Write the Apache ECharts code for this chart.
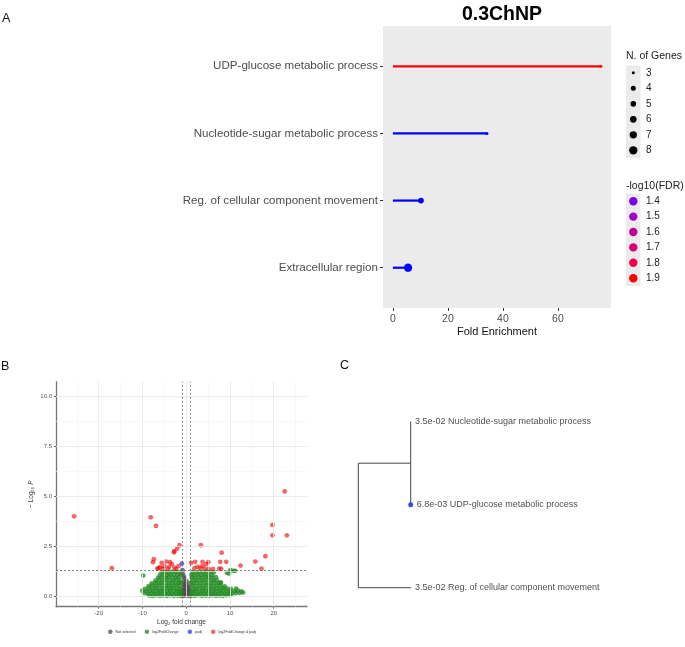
<!DOCTYPE html>
<html>
<head>
<meta charset="utf-8">
<script src="https://cdn.jsdelivr.net/npm/echarts@6/dist/echarts.min.js"></script>
<style>
html, body { margin: 0; padding: 0; background: #fff; }
#chart { width: 685px; height: 647px; }
</style>
</head>
<body>
<div id="chart"></div>
<script>
// ---- Panel A: GO enrichment lollipop ----
const goTerms = ['UDP-glucose metabolic process', 'Nucleotide-sugar metabolic process', 'Reg. of cellular component movement', 'Extracellular region']
const foldEnrichment = [75.6, 34.2, 10.2, 5.5]
const geneCounts = [3, 3, 5, 8]
const negLogFdr = [2.17, 1.46, 1.46, 1.46]
const foldTicks = [0, 20, 40, 60]
const geneLegend = [3, 4, 5, 6, 7, 8]
const fdrLegend = [1.4, 1.5, 1.6, 1.7, 1.8, 1.9]

// ---- Panel B: volcano plot points [log2FC, -log10 P] ----
const notSelected = [
	[-0.8, 0.02], [-0.4, 0.03], [0.0, 0.02], [0.4, 0.04], [0.8, 0.02],
	[-0.7, 0.15], [-0.3, 0.14], [0.1, 0.16], [0.5, 0.15],
	[-0.8, 0.3], [-0.4, 0.29], [0.0, 0.31], [0.4, 0.3], [0.7, 0.28],
	[-0.6, 0.45], [-0.2, 0.46], [0.2, 0.44], [0.6, 0.45],
	[-0.5, 0.6], [-0.1, 0.62], [0.3, 0.58],
	[-0.4, 0.76], [0.1, 0.74], [-0.3, 0.9], [-0.6, 1.0],
	[-0.8, 1.13], [-0.85, 1.3]
]
const fcOnly = [
	[-8.4, 0.03], [-7.6, 0.02], [-6.8, 0.04], [-6.0, 0.02], [-5.2, 0.03], [-4.4, 0.02], [-3.6, 0.04], [-2.8, 0.02], [-2.0, 0.03], [-1.3, 0.02],
	[1.3, 0.03], [2.0, 0.02], [2.8, 0.04], [3.6, 0.02], [4.4, 0.03], [5.2, 0.02], [6.0, 0.04], [6.8, 0.02], [7.6, 0.03], [8.4, 0.02], [9.2, 0.04], [10.0, 0.05],
	[-9.6, 0.15], [-8.8, 0.12], [-8.0, 0.14], [-7.2, 0.12], [-6.4, 0.15], [-5.6, 0.13], [-4.8, 0.12], [-4.0, 0.14], [-3.2, 0.13], [-2.4, 0.15], [-1.6, 0.12], [-1.1, 0.14],
	[1.1, 0.13], [1.7, 0.15], [2.5, 0.12], [3.3, 0.14], [4.1, 0.13], [4.9, 0.15], [5.7, 0.12], [6.5, 0.14], [7.3, 0.13], [8.1, 0.15], [8.9, 0.12], [9.7, 0.14], [10.5, 0.13], [11.3, 0.15], [12.2, 0.16], [13.0, 0.18],
	[-10.0, 0.27], [-9.2, 0.25], [-8.4, 0.26], [-7.6, 0.24], [-6.8, 0.27], [-6.0, 0.25], [-5.2, 0.26], [-4.4, 0.24], [-3.6, 0.27], [-2.8, 0.25], [-2.0, 0.26], [-1.3, 0.24],
	[1.3, 0.25], [2.1, 0.27], [2.9, 0.24], [3.7, 0.26], [4.5, 0.25], [5.3, 0.27], [6.1, 0.24], [6.9, 0.26], [7.7, 0.25], [8.5, 0.27], [9.3, 0.24], [10.1, 0.26], [11.0, 0.25], [11.8, 0.27], [12.6, 0.24],
	[-9.4, 0.36], [-8.5, 0.39], [-7.7, 0.37], [-6.9, 0.4], [-6.1, 0.38], [-5.3, 0.36], [-4.5, 0.39], [-3.7, 0.37], [-2.9, 0.4], [-2.1, 0.38], [-1.4, 0.36],
	[1.4, 0.38], [2.2, 0.36], [3.0, 0.39], [3.8, 0.37], [4.6, 0.4], [5.4, 0.38], [6.2, 0.36], [7.0, 0.39], [7.8, 0.37], [8.6, 0.4], [9.4, 0.38], [10.2, 0.36],
	[-8.6, 0.5], [-7.8, 0.53], [-7.0, 0.51], [-6.2, 0.54], [-5.4, 0.52], [-4.6, 0.5], [-3.8, 0.53], [-3.0, 0.51], [-2.2, 0.54], [-1.5, 0.52],
	[1.5, 0.52], [2.3, 0.5], [3.1, 0.53], [3.9, 0.51], [4.7, 0.54], [5.5, 0.52], [6.3, 0.5], [7.1, 0.53], [7.9, 0.51], [8.8, 0.49],
	[-7.9, 0.64], [-7.1, 0.67], [-6.3, 0.65], [-5.5, 0.68], [-4.7, 0.66], [-3.9, 0.64], [-3.1, 0.67], [-2.3, 0.65], [-1.6, 0.68], [-1.1, 0.66],
	[1.1, 0.66], [1.6, 0.64], [2.4, 0.67], [3.2, 0.65], [4.0, 0.68], [4.8, 0.66], [5.6, 0.64], [6.4, 0.67], [7.2, 0.65], [7.9, 0.68],
	[-7.0, 0.78], [-6.2, 0.81], [-5.4, 0.79], [-4.6, 0.82], [-3.8, 0.8], [-3.0, 0.78], [-2.2, 0.81], [-1.4, 0.79],
	[1.4, 0.8], [2.2, 0.78], [3.0, 0.81], [3.8, 0.79], [4.6, 0.82], [5.4, 0.8], [6.2, 0.78], [7.0, 0.8],
	[-6.4, 0.93], [-5.6, 0.95], [-4.8, 0.92], [-4.0, 0.96], [-3.2, 0.94], [-2.4, 0.92], [-1.6, 0.95],
	[1.3, 0.94], [2.0, 0.92], [2.8, 0.95], [3.6, 0.93], [4.4, 0.96], [5.2, 0.94], [6.0, 0.92], [6.8, 0.95],
	[-6.0, 1.06], [-5.2, 1.08], [-4.4, 1.05], [-3.6, 1.09], [-2.8, 1.07], [-2.0, 1.05], [-1.3, 1.08],
	[1.2, 1.07], [1.9, 1.05], [2.7, 1.08], [3.5, 1.06], [4.3, 1.09], [5.1, 1.07], [5.9, 1.05],
	[-5.6, 1.2], [-4.8, 1.22], [-4.0, 1.19], [-3.2, 1.23], [-2.4, 1.21], [-1.6, 1.19],
	[1.5, 1.21], [2.3, 1.19], [3.1, 1.22], [3.9, 1.2], [4.7, 1.23], [5.5, 1.21], [6.3, 1.19],
	[-9.8, 1.03], [7.9, 0.68], [9.3, 1.17], [9.8, 1.13], [10.1, 1.3], [10.8, 1.27], [11.2, 1.27], [11.4, 0.38]
]
const padjOnly = [[-1.0, 1.63]]
const fcAndPadj = [
	[-25.6, 4.0], [-17.0, 1.4], [-8.1, 3.95], [-6.9, 3.52], [-7.4, 1.85], [-7.6, 1.7], [-6.3, 1.4], [-6.0, 1.45],
	[-6.6, 1.38], [-5.6, 1.67], [-5.3, 1.38], [-5.0, 1.5], [-4.6, 1.73], [-4.2, 1.35], [-3.9, 1.47], [-3.7, 1.7],
	[-3.3, 1.6], [-2.8, 2.2], [-2.7, 2.25], [-2.7, 1.43], [-2.3, 1.35], [-2.06, 2.38], [-1.76, 1.5], [-1.53, 2.55],
	[1.14, 1.67], [1.9, 1.4], [2.06, 1.72], [2.6, 1.47], [3.2, 1.4], [3.35, 2.55], [3.7, 1.5], [3.73, 1.72],
	[4.2, 1.38], [4.6, 1.6], [5.03, 1.7], [5.1, 1.37], [6.1, 1.35], [7.55, 1.38], [7.78, 1.72], [8.0, 1.37],
	[8.1, 2.18], [9.15, 1.72], [12.4, 1.53], [15.8, 1.73], [17.2, 1.38], [18.1, 2.0], [19.7, 3.57], [19.7, 3.05],
	[22.5, 5.25], [23.0, 3.05]
]
const fcTicks = [-20, -10, 0, 10, 20]
const fcMinor = [-25, -15, -5, 5, 15, 25]
const pTicks = [0, 2.5, 5, 7.5, 10]
const pMinor = [1.25, 3.75, 6.25, 8.75]
const fcCutoff = [-1, 1]
const pCutoff = 1.301

// ---- Panel C: term tree ----
const treeLeaves = ['Nucleotide-sugar metabolic process', 'UDP-glucose metabolic process', 'Reg. of cellular component movement']
const treeFdr = ['3.5e-02', '6.8e-03', '3.5e-02']
const treeRoot = { depth: 0, children: [{ depth: 1, children: [{ leaf: 0, depth: 1 }, { leaf: 1, depth: 1 }] }, { leaf: 2, depth: 1 }] }

const font = 'Liberation Sans, Arial, Helvetica, sans-serif'

// blue -> red ramp by -log10(FDR), as in the plot
const fdrMin = Math.min(...negLogFdr)
const fdrMax = Math.max(...negLogFdr)
const fdrColor = (v) => {
	const t = (v - fdrMin) / (fdrMax - fdrMin)
	return `rgb(${Math.round(255 * t)},0,${Math.round(255 * (1 - t))})`
}
const fdrLegendColors = ['#7a00f2', '#a000c8', '#c1009c', '#da0070', '#ef0046', '#ff0000']
const geneKeySizes = [3, 5, 5.7, 6.7, 7.3, 8.3]
const geneSize = (n) => geneKeySizes[geneLegend.indexOf(n)]

const termY = (i) => goTerms.length - i

// tree layout: leaves top to bottom, inner nodes at mean of children
const treeSegments = []
const layoutTree = (node) => {
	if (node.leaf !== undefined) {
		node.y = treeLeaves.length - node.leaf
		return node.y
	}
	const ys = node.children.map(layoutTree)
	node.y = ys.reduce((a, b) => a + b, 0) / ys.length
	treeSegments.push([node.depth, Math.min(...ys), node.depth, Math.max(...ys)])
	node.children.forEach((c) => treeSegments.push([node.depth, c.y, c.depth, c.y]))
	return node.y
}
layoutTree(treeRoot)
const treeTips = []
const collectTips = (node) => {
	if (node.leaf !== undefined) treeTips.push({ leaf: node.leaf, x: node.depth, y: node.y })
	else node.children.forEach(collectTips)
}
collectTips(treeRoot)

// ---- legend graphic for panel A ----
const legendEls = []
legendEls.push({ type: 'text', x: 626, y: 56, style: { text: 'N. of Genes', fontSize: 10.5, fontFamily: font, fill: '#222', textVerticalAlign: 'middle' } })
legendEls.push({ type: 'rect', shape: { x: 626, y: 65.5, width: 14.5, height: 92.5 }, style: { fill: '#ebebeb' } })
geneLegend.forEach((g, i) => {
	const cy = 72.8 + 15.5 * i
	legendEls.push({ type: 'circle', shape: { cx: 633.3, cy: cy, r: geneKeySizes[i] / 2 }, style: { fill: '#000' } })
	legendEls.push({ type: 'text', x: 646, y: cy, style: { text: String(g), fontSize: 10, fontFamily: font, fill: '#222', textVerticalAlign: 'middle' } })
})
legendEls.push({ type: 'text', x: 626, y: 186, style: { text: '-log10(FDR)', fontSize: 10.5, fontFamily: font, fill: '#222', textVerticalAlign: 'middle' } })
legendEls.push({ type: 'rect', shape: { x: 626, y: 193.5, width: 14.5, height: 92.5 }, style: { fill: '#ebebeb' } })
fdrLegend.forEach((f, i) => {
	const cy = 201.2 + 15.4 * i
	legendEls.push({ type: 'circle', shape: { cx: 633.3, cy: cy, r: 4.2 }, style: { fill: fdrLegendColors[i] } })
	legendEls.push({ type: 'text', x: 646, y: cy, style: { text: f.toFixed(1), fontSize: 10, fontFamily: font, fill: '#222', textVerticalAlign: 'middle' } })
})

const panelLabel = (t, x, y) => ({ type: 'text', x: x, y: y, style: { text: t, fontSize: 12.5, fontFamily: font, fill: '#111', textVerticalAlign: 'middle' } })

const lineRender = (params, api) => {
	const a = api.coord([api.value(0), api.value(1)])
	const b = api.coord([api.value(2), api.value(3)])
	return {
		type: 'line',
		shape: { x1: a[0], y1: a[1], x2: b[0], y2: b[1] },
		style: { stroke: api.visual('color'), lineWidth: api.value(4) }
	}
}

const chart = echarts.init(document.getElementById('chart'))

const volcanoSeries = (name, data, color, opacity, z) => ({
	name: name,
	type: 'scatter',
	xAxisIndex: 1,
	yAxisIndex: 1,
	data: data,
	symbolSize: 4.8,
	itemStyle: { color: color, opacity: opacity },
	z: z,
	silent: true
})

const option = {
	animation: false,
	textStyle: { fontFamily: font },
	title: {
		text: '0.3ChNP',
		left: 497,
		top: 0,
		textAlign: 'center',
		textStyle: { fontSize: 19.5, fontWeight: 'bold', color: '#000', fontFamily: font }
	},
	legend: {
		data: ['Not selected', 'log2FoldChange', 'padj', 'log2FoldChange & padj'],
		left: 108,
		top: 629.5,
		icon: 'circle',
		itemWidth: 4.6,
		itemHeight: 4.6,
		itemGap: 9,
		padding: 0,
		textStyle: { fontSize: 3.6, color: '#333', padding: [0, 0, 0, -2] }
	},
	graphic: [
		panelLabel('A', 2, 19),
		panelLabel('B', 1, 367),
		panelLabel('C', 340, 366)
	].concat(legendEls),
	grid: [
		{ left: 383, top: 26, width: 228, height: 282, show: true, backgroundColor: '#ebebeb', borderWidth: 0 },
		{ left: 56, top: 381.7, width: 251, height: 225 },
		{ left: 358.3, top: 421.7, width: 52.4, height: 166 }
	],
	xAxis: [
		{
			gridIndex: 0, type: 'value', min: -3.6, max: 79.3,
			axisLine: { show: false, onZero: false },
			axisTick: { show: true, length: 3, lineStyle: { color: '#333' }, customValues: foldTicks },
			axisLabel: { customValues: foldTicks, color: '#4d4d4d', fontSize: 10.5, margin: 6 },
			splitLine: { show: false },
			name: 'Fold Enrichment', nameLocation: 'middle', nameGap: 18,
			nameTextStyle: { fontSize: 11, color: '#111' }
		},
		{
			gridIndex: 1, type: 'value', min: -29.75, max: 27.6,
			axisLine: { show: true, onZero: false, lineStyle: { color: '#777', width: 1.3 } },
			axisTick: { show: true, length: 2, lineStyle: { color: '#666' }, customValues: fcTicks },
			axisLabel: { customValues: fcTicks, color: '#555', fontSize: 6, margin: 4 },
			splitLine: { show: false },
			name: 'Log\u2082 fold change', nameLocation: 'middle', nameGap: 12,
			nameTextStyle: { fontSize: 6.5, color: '#333' }
		},
		{ gridIndex: 2, type: 'value', min: 0, max: 1, show: false }
	],
	yAxis: [
		{
			gridIndex: 0, type: 'value', min: 0.4, max: 4.6,
			axisLine: { show: false, onZero: false },
			axisTick: { show: true, length: 3, lineStyle: { color: '#333' }, customValues: [1, 2, 3, 4] },
			axisLabel: {
				customValues: [1, 2, 3, 4], color: '#4d4d4d', fontSize: 11.6, margin: 5,
				formatter: (v) => goTerms[goTerms.length - Math.round(v)]
			},
			splitLine: { show: false }
		},
		{
			gridIndex: 1, type: 'value', min: -0.53, max: 10.75,
			axisLine: { show: true, onZero: false, lineStyle: { color: '#777', width: 1.3 } },
			axisTick: { show: true, length: 2, lineStyle: { color: '#666' }, customValues: pTicks },
			axisLabel: { customValues: pTicks, color: '#555', fontSize: 6, margin: 4, formatter: (v) => v.toFixed(1) },
			splitLine: { show: false },
			name: '{a|\u2212 Log\u2081\u2080 }{i|P}', nameLocation: 'middle', nameGap: 21,
			nameTextStyle: { rich: { a: { fontSize: 6.5, color: '#333' }, i: { fontSize: 6.5, color: '#333', fontStyle: 'italic' } } }
		},
		{ gridIndex: 2, type: 'value', min: 1, max: 3, show: false }
	],
	series: [
		// A: lollipop sticks
		{
			type: 'custom', xAxisIndex: 0, yAxisIndex: 0, silent: true, z: 2,
			renderItem: lineRender,
			data: goTerms.map((t, i) => ({
				value: [0, termY(i), foldEnrichment[i], termY(i), 2.2],
				itemStyle: { color: fdrColor(negLogFdr[i]) }
			}))
		},
		// A: dots sized by gene count
		{
			type: 'scatter', xAxisIndex: 0, yAxisIndex: 0, silent: true, z: 3,
			data: goTerms.map((t, i) => ({
				value: [foldEnrichment[i], termY(i)],
				symbolSize: geneSize(geneCounts[i]),
				itemStyle: { color: fdrColor(negLogFdr[i]), opacity: 1 }
			}))
		},
		// B: background grid lines
		{
			type: 'scatter', xAxisIndex: 1, yAxisIndex: 1, data: [], z: 0, silent: true,
			markLine: {
				silent: true, symbol: 'none', label: { show: false }, animation: false,
				data: fcMinor.map((v) => ({ xAxis: v, lineStyle: { color: '#f3f3f3', width: 0.6, type: 'solid' } }))
					.concat(fcTicks.map((v) => ({ xAxis: v, lineStyle: { color: '#e6e6e6', width: 0.8, type: 'solid' } })))
					.concat(pMinor.map((v) => ({ yAxis: v, lineStyle: { color: '#f3f3f3', width: 0.6, type: 'solid' } })))
					.concat(pTicks.map((v) => ({ yAxis: v, lineStyle: { color: '#e6e6e6', width: 0.8, type: 'solid' } })))
			}
		},
		volcanoSeries('Not selected', notSelected, '#4d4d4d', 0.75, 2),
		volcanoSeries('log2FoldChange', fcOnly, '#228b22', 0.75, 2),
		volcanoSeries('padj', padjOnly, '#2a3ee0', 0.75, 2),
		volcanoSeries('log2FoldChange & padj', fcAndPadj, '#ee0000', 0.6, 2),
		// B: cutoff lines
		{
			type: 'scatter', xAxisIndex: 1, yAxisIndex: 1, data: [], z: 4, silent: true,
			markLine: {
				silent: true, symbol: 'none', label: { show: false }, animation: false,
				lineStyle: { color: '#555', width: 0.7, type: [2, 2] },
				data: fcCutoff.map((v) => ({ xAxis: v })).concat([{ yAxis: pCutoff }])
			}
		},
		// C: tree branches
		{
			type: 'custom', xAxisIndex: 2, yAxisIndex: 2, silent: true,
			renderItem: lineRender,
			itemStyle: { color: '#444' },
			data: treeSegments.map((s) => s.concat([1]))
		},
		// C: tips and labels
		{
			type: 'scatter', xAxisIndex: 2, yAxisIndex: 2, silent: true, z: 3,
			data: treeTips.map((t) => {
				const strong = parseFloat(treeFdr[t.leaf]) < 0.01
				return {
					value: [t.x, t.y],
					symbolSize: strong ? 5 : 1.6,
					itemStyle: { color: strong ? '#0a1fff' : '#8fa2ff' },
					label: {
						show: true, position: 'right', distance: 3.5,
						formatter: treeFdr[t.leaf] + ' ' + treeLeaves[t.leaf],
						fontSize: 9, color: '#222'
					}
				}
			})
		}
	]
}

chart.setOption(option)
</script>
</body>
</html>
